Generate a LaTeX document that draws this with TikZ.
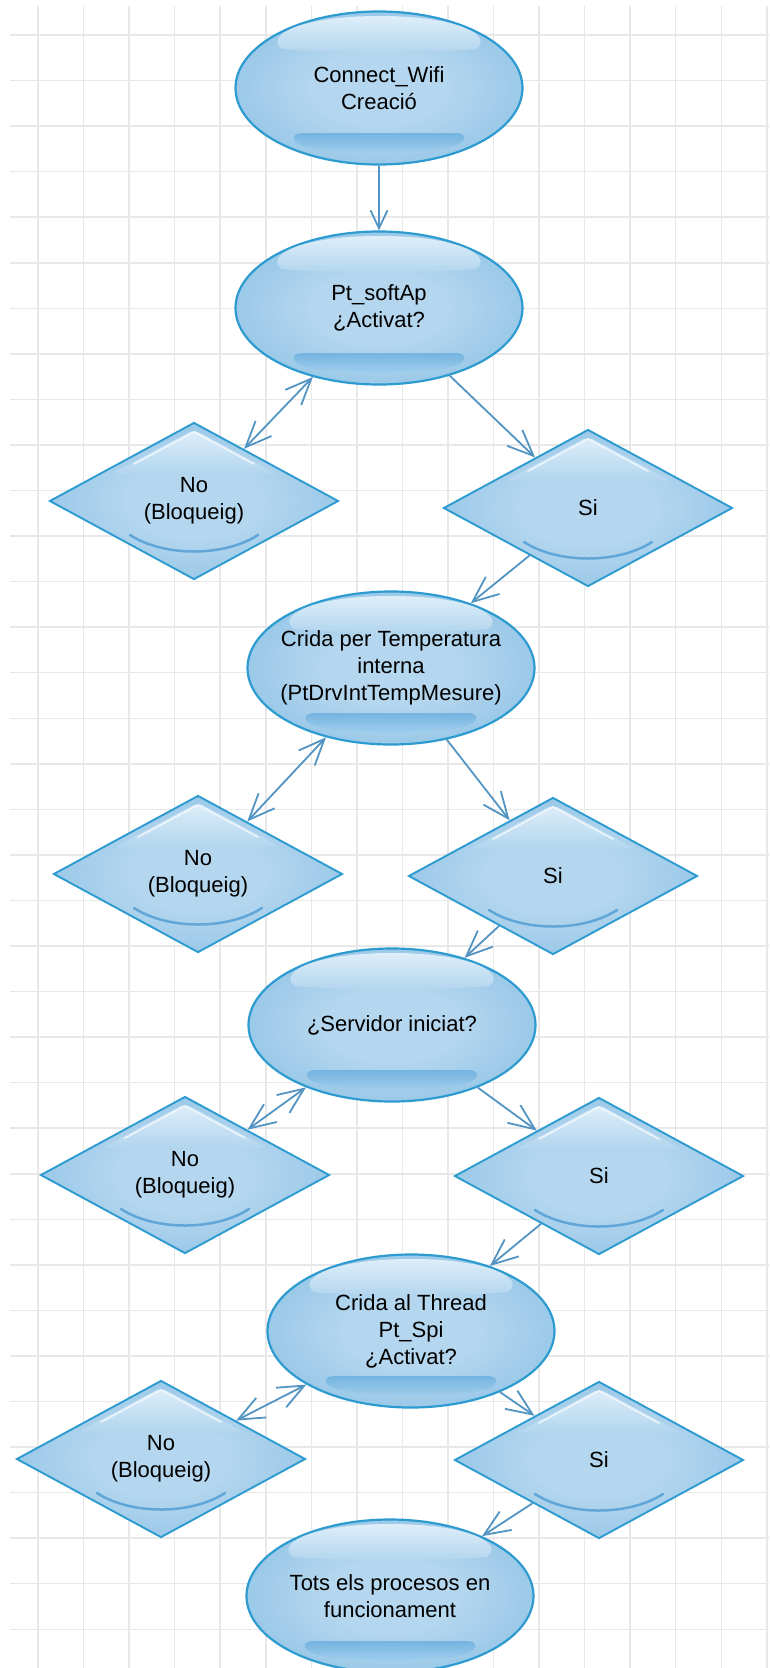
\documentclass[tikz,border=0pt]{standalone}
\usepackage{fontspec}
\setmainfont{Liberation Sans}
\usetikzlibrary{shapes.geometric,arrows.meta}

\definecolor{gridgray}{RGB}{232,232,232}
\definecolor{shapeedge}{RGB}{45,155,208}
\definecolor{fillin}{RGB}{180,214,238}
\definecolor{fillout}{RGB}{106,176,222}
\definecolor{glosstop}{RGB}{222,238,249}
\definecolor{glossbot}{RGB}{178,213,238}
\definecolor{glossedge}{RGB}{236,245,252}
\definecolor{bandtop}{RGB}{116,180,224}
\definecolor{bandbot}{RGB}{168,209,238}
\definecolor{smile}{RGB}{96,166,216}
\definecolor{linkblue}{RGB}{84,148,194}

\pgfdeclareradialshading{glossy}{\pgfpoint{0bp}{0bp}}{color(0bp)=(fillin); color(12bp)=(fillin); color(50bp)=(fillout)}

\tikzset{
  ellbox/.style={ellipse, draw=shapeedge, line width=2.2pt, shade, shading=glossy,
    minimum width=287pt, minimum height=153pt, inner sep=0pt},
  dmdbox/.style={diamond, draw=shapeedge, line width=1.9pt, shade, shading=glossy,
    minimum width=289pt, minimum height=157pt, inner sep=0pt},
  lbl/.style={font=\fontsize{22}{27}\selectfont, align=center, text=black, inner sep=0pt},
  barb/.tip={Straight Barb[length=26pt,width=22pt]},
  smallbarb/.tip={Straight Barb[length=18pt,width=17pt]},
  link/.style={draw=linkblue, line width=1.8pt, -barb},
  shortlink/.style={draw=linkblue, line width=1.8pt, -smallbarb},
  twoway/.style={draw=linkblue, line width=1.8pt, barb-barb},
  gridline/.style={draw=gridgray, line width=1.5pt},
  topgloss/.style={top color=glosstop, bottom color=glossbot},
  lowband/.style={top color=bandtop, bottom color=bandbot},
}

% glossy highlights on top of an ellipse node
\newcommand\ellgloss[1]{%
  \begin{scope}[shift={(#1.center)}]
    \shade[topgloss] (-97,-39) .. controls (-115,-52) and (-80,-72) .. (0,-72)
      .. controls (80,-72) and (115,-52) .. (97,-39)
      .. controls (60,-35) and (-60,-35) .. cycle;
    \shade[lowband] (-76,45) -- (76,45) .. controls (88,45) and (88,53) .. (78,57)
      .. controls (50,68) and (-50,68) .. (-78,57)
      .. controls (-88,53) and (-88,45) .. cycle;
  \end{scope}}

% glossy highlights on top of a diamond node
\newcommand\dmdgloss[1]{%
  \begin{scope}[shift={(#1.center)}]
    \shade[topgloss, rounded corners=5pt] (0,-71) -- (83,-27) -- (-83,-27) -- cycle;
    \draw[glossedge, line width=1.6pt, line cap=round] (-60,-37) -- (0,-69) -- (60,-37);
    \draw[smile, line width=2.5pt, line cap=round] (-64,34) .. controls (-30,56) and (30,56) .. (64,34);
  \end{scope}}

\newcommand\ellnode[3]{%
  \node[ellbox] (#1) at (#2) {};
  \ellgloss{#1}
  \node[lbl] (#1t) at (#1.center) {#3};}

\newcommand\dmdnode[3]{%
  \node[dmdbox] (#1) at (#2) {};
  \dmdgloss{#1}
  \node[lbl] (#1t) at (#1.center) {#3};}

\begin{document}
\begin{tikzpicture}[x=1pt, y=-1pt]
  \useasboundingbox (0,0) rectangle (769,1668);
  \clip (0,0) rectangle (769,1668);
  \fill[white] (0,0) rectangle (769,1668);

  % squared paper
  \foreach \k in {0,...,16}
    \draw[gridline] ({38+45.55*\k},6) -- ({38+45.55*\k},1668);
  \foreach \k in {0,...,35}
    \draw[gridline] (10,{35+45.55*\k}) -- (769,{35+45.55*\k});

  % shapes
  \ellnode{E1}{379,88}{Connect\_Wifi\\Creació}
  \ellnode{E2}{379,308}{Pt\_softAp\\¿Activat?}
  \dmdnode{N1}{194,501}{No\\(Bloqueig)}
  \dmdnode{S1}{588,508}{Si}
  \ellnode{E3}{391,668}{Crida per Temperatura\\interna\\(PtDrvIntTempMesure)}
  \dmdnode{N2}{198,874}{No\\(Bloqueig)}
  \dmdnode{S2}{553,876}{Si}
  \ellnode{E4}{392,1025}{¿Servidor iniciat?}
  \dmdnode{N3}{185,1175}{No\\(Bloqueig)}
  \dmdnode{S3}{599,1176}{Si}
  \ellnode{E5}{411,1331}{Crida al Thread\\Pt\_Spi\\¿Activat?}
  \dmdnode{N4}{161,1459}{No\\(Bloqueig)}
  \dmdnode{S4}{599,1460}{Si}
  \ellnode{E6}{390,1596}{Tots els procesos en\\funcionament}

  % connectors
  \draw[shortlink] (E1) -- (E2);
  \draw[twoway] (E2) -- (N1);
  \draw[link] (E2) -- (S1);
  \draw[link] (S1) -- (E3);
  \draw[twoway] (E3) -- (N2);
  \draw[link] (E3) -- (S2);
  \draw[link] (S2) -- (E4);
  \draw[twoway] (E4) -- (N3);
  \draw[link] (E4) -- (S3);
  \draw[link] (S3) -- (E5);
  \draw[twoway] (E5) -- (N4);
  \draw[link] (E5) -- (S4);
  \draw[link] (S4) -- (E6);
\end{tikzpicture}
\end{document}
